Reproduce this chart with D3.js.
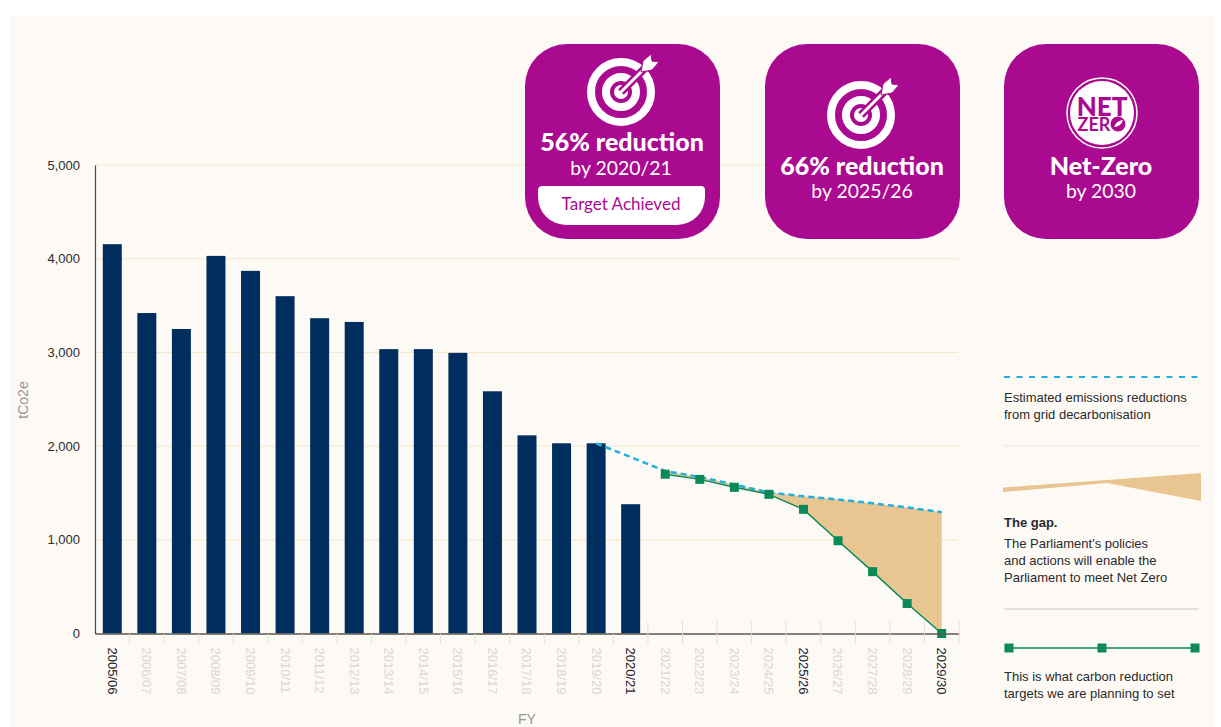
<!DOCTYPE html>
<html>
<head>
<meta charset="utf-8">
<script src="https://cdn.jsdelivr.net/npm/d3@7"></script>
<style>
  html, body { margin: 0; padding: 0; background: #fff; }
  text { font-family: "Liberation Sans", Arial, sans-serif; }
  .badge text { font-family: Lato, sans-serif; fill: #fff; text-anchor: middle; }
</style>
</head>
<body>
<div id="chart"></div>
<script>
const years = ["2005/06","2006/07","2007/08","2008/09","2009/10","2010/11","2011/12","2012/13","2013/14","2014/15","2015/16","2016/17","2017/18","2018/19","2019/20","2020/21","2021/22","2022/23","2023/24","2024/25","2025/26","2026/27","2027/28","2028/29","2029/30"];
const boldYears = ["2005/06","2020/21","2025/26","2029/30"];
const yTicks = [0, 1000, 2000, 3000, 4000, 5000];

const actualYears = years.slice(0, 16);
const actual = [4155, 3420, 3250, 4030, 3870, 3600, 3365, 3325, 3035, 3035, 2995, 2585, 2115, 2030, 2030, 1380];

const targetYears = years.slice(16);
const target = [1700, 1645, 1560, 1485, 1325, 990, 660, 320, 0];

const gridYears = years.slice(14);
const grid = [2030, null, 1735, 1670, 1590, 1505, 1465, 1430, 1390, 1345, 1295];

const legendGrid = ["Estimated emissions reductions", "from grid decarbonisation"];
const legendGapTitle = "The gap.";
const legendGap = ["The Parliament's policies", "and actions will enable the", "Parliament to meet Net Zero"];
const legendTarget = ["This is what carbon reduction", "targets we are planning to set"];

const width = 1221, height = 727;
const navy = "#002f5f", green = "#0b8a58", cyan = "#1fb1dc", sand = "#e9c592", magenta = "#aa0a8f";

const svg = d3.select("#chart").append("svg")
  .attr("width", width)
  .attr("height", height)
  .style("display", "block");

// cream page behind the chart
svg.append("rect").attr("x", 10).attr("y", 16).attr("width", 1204).attr("height", 711).attr("fill", "#fdfaf5");

const x = d3.scaleBand().domain(years).range([95, 959]).paddingInner(0.45).paddingOuter(0.225);
const y = d3.scaleLinear().domain([0, 5000]).range([633.5, 165]);
const cx = d => x(d) + x.bandwidth() / 2;

// gridlines
svg.append("g").selectAll("line")
  .data(yTicks.slice(1))
  .join("line")
  .attr("x1", 96).attr("x2", 958)
  .attr("y1", d => y(d)).attr("y2", d => y(d))
  .attr("stroke", "#f1e7c8")
  .attr("stroke-width", 1);

// bars
svg.append("g").selectAll("rect")
  .data(actualYears)
  .join("rect")
  .attr("x", d => x(d))
  .attr("width", x.bandwidth())
  .attr("y", (d, i) => y(actual[i]))
  .attr("height", (d, i) => y(0) - y(actual[i]))
  .attr("fill", navy);

// gap between grid line and target line
const gapArea = d3.area()
  .x(d => cx(d))
  .y0((d, i) => y(target[i]))
  .y1(d => y(grid[gridYears.indexOf(d)]));
svg.append("path").datum(targetYears).attr("d", gapArea).attr("fill", sand);

// grid decarbonisation line
svg.append("path")
  .attr("d", d3.line().x(d => cx(d)).y(d => y(grid[gridYears.indexOf(d)]))(gridYears.filter(d => grid[gridYears.indexOf(d)] !== null)))
  .attr("fill", "none")
  .attr("stroke", cyan)
  .attr("stroke-width", 2.5)
  .attr("stroke-dasharray", "6,4");

// target line
svg.append("path")
  .attr("d", d3.line().x(d => cx(d)).y((d, i) => y(target[i]))(targetYears))
  .attr("fill", "none")
  .attr("stroke", green)
  .attr("stroke-width", 1.5);
svg.append("g").selectAll("rect")
  .data(targetYears)
  .join("rect")
  .attr("x", d => cx(d) - 4.5)
  .attr("y", (d, i) => y(target[i]) - 4.5)
  .attr("width", 9).attr("height", 9)
  .attr("fill", green);

// axes
const xAxis = d3.axisBottom(x).tickSize(0).tickPadding(0);
const xG = svg.append("g").attr("transform", "translate(0,633.5)").call(xAxis);
xG.select(".domain").attr("stroke", "#5a5750").attr("stroke-width", 1.5);
xG.selectAll("text")
  .attr("transform", "rotate(90)")
  .attr("text-anchor", "start")
  .attr("x", 14)
  .attr("y", 0)
  .attr("dy", "0.35em")
  .attr("font-size", 13)
  .style("font-family", '"Liberation Sans", Arial, sans-serif')
  .attr("fill", d => boldYears.includes(d) ? "#23252a" : "#d9d7d4");

// little ticks between the categories
svg.append("g").selectAll("line")
  .data(years)
  .join("line")
  .attr("x1", (d, i) => 95 + (i + 1) * x.step())
  .attr("x2", (d, i) => 95 + (i + 1) * x.step())
  .attr("y1", (d, i) => i >= 15 ? 621 : 634)
  .attr("y2", 644)
  .attr("stroke", "#e6dfd5")
  .attr("stroke-width", 1);

const yAxis = d3.axisLeft(y).tickValues(yTicks).tickFormat(d3.format(",")).tickSize(0).tickPadding(15);
const yG = svg.append("g").attr("transform", "translate(95,0)").call(yAxis);
yG.select(".domain").attr("stroke", "#4a4845").attr("stroke-width", 1.2);
yG.selectAll("text")
  .attr("font-size", 13)
  .style("font-family", '"Liberation Sans", Arial, sans-serif')
  .attr("fill", "#2b2b2d");

svg.append("text")
  .attr("transform", "translate(28,400) rotate(-90)")
  .attr("text-anchor", "middle")
  .attr("font-size", 14)
  .attr("fill", "#969593")
  .text("tCo2e");
svg.append("text")
  .attr("x", 527).attr("y", 724)
  .attr("text-anchor", "middle")
  .attr("font-size", 14)
  .attr("fill", "#969593")
  .text("FY");

// target icon, drawn round its centre
function targetIcon(g, tx, ty) {
  const i = g.append("g").attr("transform", `translate(${tx},${ty})`);
  i.append("circle").attr("r", 30).attr("fill", "none").attr("stroke", "#fff").attr("stroke-width", 8);
  i.append("circle").attr("r", 15).attr("fill", "none").attr("stroke", "#fff").attr("stroke-width", 8);
  i.append("circle").attr("r", 7).attr("fill", "#fff");
  i.append("line").attr("x1", 0).attr("y1", 0).attr("x2", 26).attr("y2", -26).attr("stroke", magenta).attr("stroke-width", 8);
  i.append("line").attr("x1", 0).attr("y1", 0).attr("x2", 24).attr("y2", -24).attr("stroke", "#fff").attr("stroke-width", 3);
  i.append("path").attr("d", "M20,-20 L22,-31 L30,-38 L31,-31 L38,-30 L31,-22 Z").attr("fill", "#fff")
    .attr("stroke", magenta).attr("stroke-width", 1);
}

// badges
const badge = (bx) => {
  const g = svg.append("g").attr("class", "badge");
  g.append("rect").attr("x", bx).attr("y", 44).attr("width", 195).attr("height", 195).attr("rx", 42).attr("fill", magenta);
  return g;
};

const b1 = badge(525);
targetIcon(b1, 621, 92);
b1.append("text").attr("x", 622).attr("y", 151).attr("font-size", 25).attr("font-weight", 900).text("56% reduction");
b1.append("text").attr("x", 621).attr("y", 175).attr("font-size", 19.4).text("by 2020/21");
b1.append("path").attr("d", "M543,186 H701 Q705,186 705,190 V197 A28,28 0 0 1 677,225 H566 A28,28 0 0 1 538,197 V190 Q538,186 543,186 Z").attr("fill", "#fff");
b1.append("text").attr("x", 621).attr("y", 210).attr("font-size", 17).style("fill", magenta).text("Target Achieved");

const b2 = badge(765);
targetIcon(b2, 861, 115);
b2.append("text").attr("x", 862).attr("y", 174.5).attr("font-size", 25).attr("font-weight", 900).text("66% reduction");
b2.append("text").attr("x", 862).attr("y", 198).attr("font-size", 19.4).text("by 2025/26");

const b3 = badge(1004);
b3.append("circle").attr("cx", 1102).attr("cy", 113).attr("r", 35).attr("fill", "none").attr("stroke", "#fff").attr("stroke-width", 1.5);
b3.append("circle").attr("cx", 1102).attr("cy", 113).attr("r", 32).attr("fill", "#fff");
// logo lettering is one text, the two lines sit tight together
const logo = b3.append("text").style("fill", magenta);
logo.append("tspan").attr("x", 1102).attr("y", 116).attr("font-size", 26).attr("font-weight", 900).text("NET");
logo.append("tspan").attr("x", 1094).attr("y", 131).attr("font-size", 18).attr("font-weight", 700).text("ZER");
b3.append("circle").attr("cx", 1118).attr("cy", 124).attr("r", 7.5).attr("fill", magenta);
b3.append("path").attr("d", "M1114,127 Q1116,121 1123,120 Q1121,127 1114,127 Z").attr("fill", "#fff");
b3.append("text").attr("x", 1101).attr("y", 174.5).attr("font-size", 25).attr("font-weight", 900).text("Net-Zero");
b3.append("text").attr("x", 1101).attr("y", 198).attr("font-size", 19.4).text("by 2030");

// legend
const legend = svg.append("g");
const legendText = (lines, ys, weight) => legend.append("g").selectAll("text")
  .data(lines)
  .join("text")
  .attr("x", 1004)
  .attr("y", (d, i) => ys[i])
  .attr("font-size", 13)
  .attr("font-weight", weight || 400)
  .attr("fill", "#2a2a2c")
  .text(d => d);

legend.append("line").attr("x1", 1004).attr("x2", 1201).attr("y1", 377).attr("y2", 377)
  .attr("stroke", cyan).attr("stroke-width", 2).attr("stroke-dasharray", "6,6.5");
legendText(legendGrid, [402, 419]);
legend.append("line").attr("x1", 1004).attr("x2", 1199).attr("y1", 446).attr("y2", 446).attr("stroke", "#e6e3df");

legend.append("path").attr("d", "M1003,487.5 L1107,480 L1201,473 V501 L1107,483 L1003,492 Z").attr("fill", sand);
legendText([legendGapTitle], [527], 700);
legendText(legendGap, [548, 565, 582]);
legend.append("line").attr("x1", 1004).attr("x2", 1199).attr("y1", 609).attr("y2", 609).attr("stroke", "#c9c7c5");

legend.append("line").attr("x1", 1009).attr("x2", 1195).attr("y1", 648).attr("y2", 648).attr("stroke", green).attr("stroke-width", 1.5);
legend.append("g").selectAll("rect")
  .data([1009, 1102, 1195])
  .join("rect")
  .attr("x", d => d - 4.5).attr("y", 643.5).attr("width", 9).attr("height", 9).attr("fill", green);
legendText(legendTarget, [681, 698]);
</script>
</body>
</html>
